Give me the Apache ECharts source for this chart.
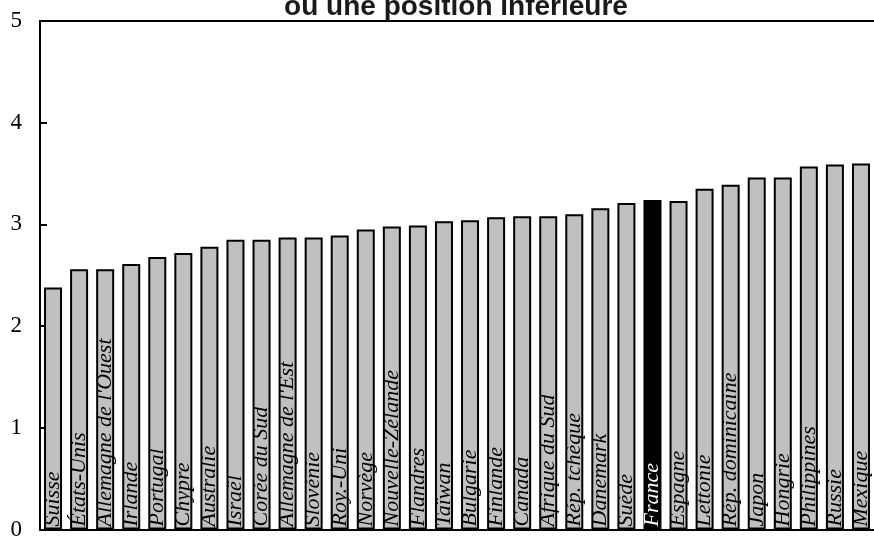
<!DOCTYPE html>
<html>
<head>
<meta charset="utf-8">
<script src="https://cdn.jsdelivr.net/npm/echarts@6/dist/echarts.min.js"></script>
<style>
html,body{margin:0;padding:0;background:#fff;}
#chart{width:874px;height:541px;}
</style>
</head>
<body>
<div id="chart"></div>
<script>
const titleText = "ou une position inférieure";
const categories = ["Suisse","États-Unis","Allemagne de l'Ouest","Irlande","Portugal","Chypre","Australie","Israël","Corée du Sud","Allemagne de l'Est","Slovénie","Roy.-Uni","Norvège","Nouvelle-Zélande","Flandres","Taïwan","Bulgarie","Finlande","Canada","Afrique du Sud","Rép. tchèque","Danemark","Suède","France","Espagne","Lettonie","Rép. dominicaine","Japon","Hongrie","Philippines","Russie","Mexique"];
const values = [2.38,2.56,2.56,2.61,2.68,2.72,2.78,2.85,2.85,2.87,2.87,2.89,2.95,2.98,2.99,3.03,3.04,3.07,3.08,3.08,3.10,3.16,3.21,3.24,3.23,3.35,3.39,3.46,3.46,3.57,3.59,3.60];
const highlight = "France";
const yTicks = [0,1,2,3,4,5];

const chart = echarts.init(document.getElementById('chart'), null, {renderer:'canvas'});
const serif = "'Liberation Serif','Times New Roman',serif";
chart.setOption({
  animation:false,
  backgroundColor:'#fff',
  title:{
    text:titleText, left:456, top:-7, textAlign:'center', padding:0,
    textStyle:{fontFamily:"'Liberation Sans',Arial,sans-serif", fontWeight:'bold', fontSize:28, color:'#1a1a1a'}
  },
  grid:{left:40, top:21, width:840, height:517, containLabel:false},
  xAxis:[{
    type:'category', data:categories, position:'bottom',
    axisLine:{show:true, lineStyle:{color:'#000', width:2}},
    axisTick:{show:false},
    axisLabel:{show:false},
    z:10
  },{
    type:'category', data:categories, position:'top',
    axisLine:{show:true, lineStyle:{color:'#000', width:2}},
    axisTick:{show:false}, axisLabel:{show:false}
  }],
  yAxis:{
    type:'value', min:yTicks[0], max:yTicks[yTicks.length-1], interval:1,
    axisLine:{show:true, lineStyle:{color:'#000', width:2}},
    axisTick:{show:true, inside:true, length:7, lineStyle:{color:'#000', width:2}},
    axisLabel:{fontFamily:serif, fontSize:23, color:'#000', margin:18},
    splitLine:{show:false}
  },
  series:[{
    type:'bar', barWidth:18,
    data:values.map((v,i)=>({
      value:v,
      itemStyle:{color: categories[i]===highlight ? '#000' : '#c0c0c0'},
      label:{color: categories[i]===highlight ? '#fff' : '#000'}
    })),
    itemStyle:{borderColor:'#000', borderWidth:2},
    label:{
      show:true, position:'insideBottom', rotate:90, align:'left', verticalAlign:'middle',
      distance:3, formatter:'{b}', fontFamily:serif, fontStyle:'italic', fontSize:22
    }
  }]
});
</script>
</body>
</html>
